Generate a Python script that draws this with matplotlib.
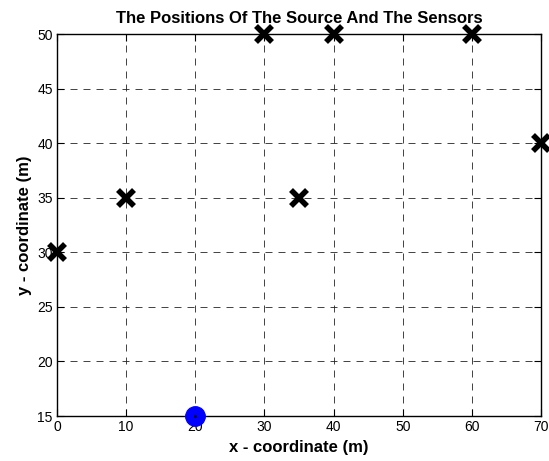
import matplotlib
matplotlib.use("Agg")
import matplotlib.pyplot as plt

plt.rcParams['font.family'] = ['Liberation Sans', 'DejaVu Sans']

sensor_x = [0, 10, 30, 40, 60, 70, 35]
sensor_y = [30, 35, 50, 50, 50, 40, 35]
source_x = [20]
source_y = [15]
xticks = [0, 10, 20, 30, 40, 50, 60, 70]
yticks = [15, 20, 25, 30, 35, 40, 45, 50]

fig = plt.figure(figsize=(5.49, 4.61), dpi=100)
ax = fig.add_axes([57/549, 45/461, 484/549, 382/461])
ax.set_xlim(0, 70)
ax.set_ylim(15, 50)
ax.set_xticks(xticks)
ax.set_yticks(yticks)
ax.tick_params(direction='in', length=5, width=0.8, labelsize=10, pad=3, top=True, right=True)
ax.grid(True, color='#222222', linestyle=(0, (8.4, 7.2)), linewidth=0.6)
for s in ax.spines.values():
    s.set_linewidth(1.0)

ax.plot(sensor_x, sensor_y, linestyle='none', marker='x', markersize=12,
        markeredgewidth=4, color='black', clip_on=False, zorder=5)
ax.plot(source_x, source_y, linestyle='none', marker='o', markersize=14,
        markerfacecolor='#0000ff', markeredgecolor='#0000ff', clip_on=False, zorder=5)
ax.plot(source_x, source_y, linestyle='none', marker='.', markersize=2,
        color='black', clip_on=False, zorder=6)

ax.set_title('The Positions Of The Source And The Sensors', fontsize=12,
             fontweight='bold', pad=8)
ax.set_xlabel('x - coordinate (m)', fontsize=12, fontweight='bold', labelpad=4)
ax.set_ylabel('y - coordinate (m)', fontsize=12, fontweight='bold', labelpad=4)

fig.savefig('out.png', dpi=100)
